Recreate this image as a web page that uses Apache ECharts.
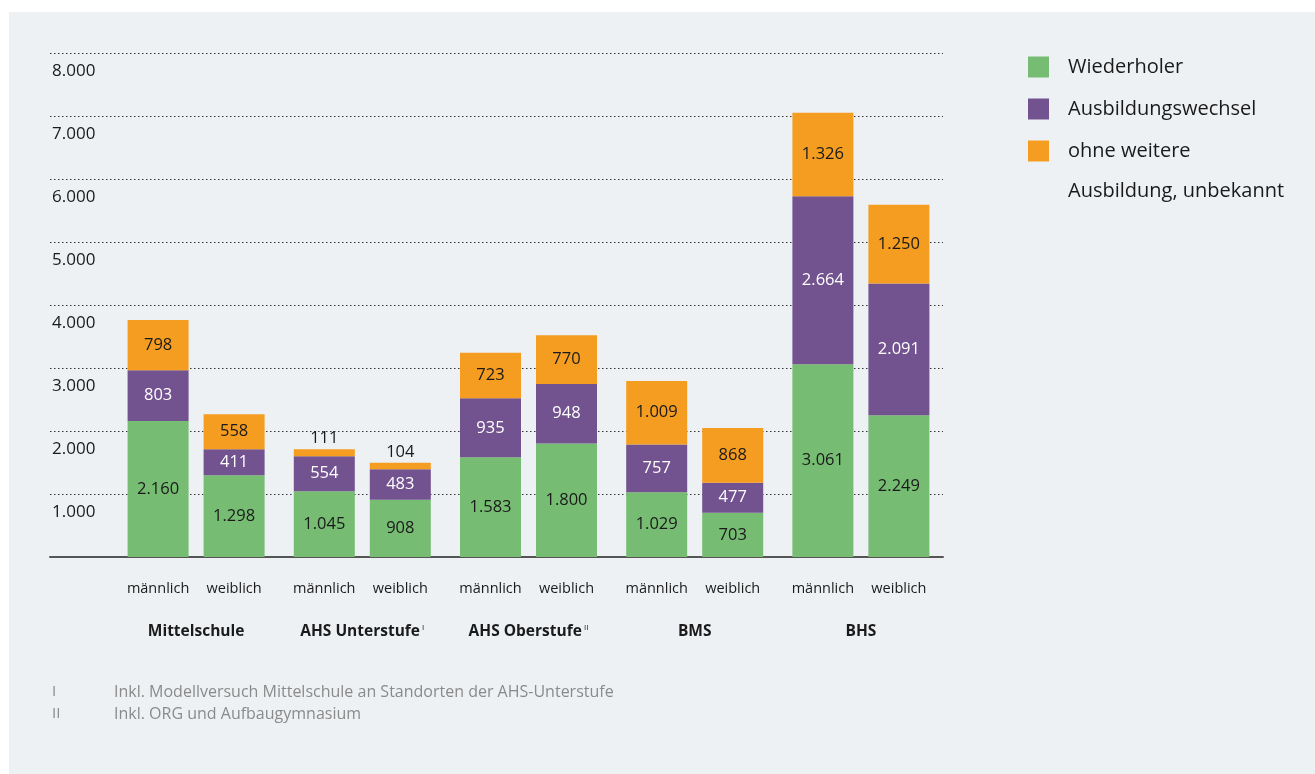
<!DOCTYPE html>
<html>
<head>
<meta charset="utf-8">
<script src="https://cdn.jsdelivr.net/npm/echarts@6/dist/echarts.min.js"></script>
<style>html,body{margin:0;padding:0;background:#fff}#c{width:1315px;height:774px}</style>
</head>
<body>
<div id="c"></div>
<script>
const groups = ['Mittelschule', 'AHS Unterstufe', 'AHS Oberstufe', 'BMS', 'BHS'];
const groupSup = ['', 'I', 'II', '', ''];
const genders = ['männlich', 'weiblich'];
const seriesNames = ['Wiederholer', 'Ausbildungswechsel', 'ohne weitere Ausbildung, unbekannt'];
// values per group: [männlich, weiblich]
const wiederholerM = [2160, 1045, 1583, 1029, 3061];
const wiederholerW = [1298, 908, 1800, 703, 2249];
const wechselM = [803, 554, 935, 757, 2664];
const wechselW = [411, 483, 948, 477, 2091];
const ohneM = [798, 111, 723, 1009, 1326];
const ohneW = [558, 104, 770, 868, 1250];
const yTicks = [0, 1000, 2000, 3000, 4000, 5000, 6000, 7000, 8000];
const footnotes = [['I', 'Inkl. Modellversuch Mittelschule an Standorten der AHS-Unterstufe'], ['II', 'Inkl. ORG und Aufbaugymnasium']];

const colors = ['#76BC72', '#72528F', '#F49D21'];
const labelColors = ['#1a1a1a', '#ffffff', '#1a1a1a'];
const FONT = '"Open Sans", "Noto Sans", sans-serif';

function fmt(v) { return String(v).replace(/\B(?=(\d{3})+(?!\d))/g, '.'); }

const chart = echarts.init(document.getElementById('c'), null, { renderer: 'canvas' });

const dataSets = [[wiederholerM, wiederholerW], [wechselM, wechselW], [ohneM, ohneW]];
const series = [];
[0, 1].forEach(g => {
  dataSets.forEach((pair, si) => {
    series.push({
      name: seriesNames[si],
      type: 'bar',
      stack: genders[g],
      xAxisIndex: 1, yAxisIndex: 1,
      barWidth: 61,
      barGap: '24.6%',
      itemStyle: { color: colors[si] },
      label: {
        show: true, position: 'inside', color: labelColors[si],
        fontFamily: FONT, fontSize: 16.5,
        formatter: p => fmt(p.value)
      },
      data: pair[g].map(v => v < 200 ? { value: v, label: { position: 'top', color: '#1a1a1a', distance: 2 } } : v)
    });
  });
});

const option = {
  backgroundColor: '#ffffff',
  animation: false,
  textStyle: { fontFamily: FONT },
  graphic: [
    { type: 'rect', z: -10, shape: { x: 9, y: 12, width: 1306, height: 762 }, style: { fill: '#EEF1F4' } },
    { type: 'text', left: 1068, top: 191 - 10, style: { text: 'Ausbildung, unbekannt', fill: '#1a1a1a', font: '20px ' + FONT } },
    ...footnotes.flatMap((f, i) => [
      { type: 'text', left: 52, top: 684 + i * 22, style: { text: f[0], fill: '#8a8a8a', font: '15px ' + FONT } },
      { type: 'text', left: 114, top: 684 + i * 22, style: { text: f[1], fill: '#8a8a8a', font: '16px ' + FONT } }
    ])
  ],
  legend: {
    orient: 'vertical', left: 1028, top: 56, padding: 0,
    itemWidth: 21, itemHeight: 21, itemGap: 20,
    icon: 'rect',
    textStyle: { fontSize: 20, color: '#1a1a1a', padding: [0, 0, 0, 14], lineHeight: 22, fontFamily: FONT },
    data: seriesNames,
    formatter: n => n === seriesNames[2] ? 'ohne weitere' : n
  },
  grid: [
    { left: 50, right: 372, top: 53, bottom: 217 },
    { left: 113, right: 371, top: 53, bottom: 217 }
  ],
  xAxis: [
    { type: 'value', gridIndex: 0, min: 0, max: 1, axisLine: { show: true, onZero: false, lineStyle: { color: '#555', width: 2 } }, axisTick: { show: false }, axisLabel: { show: false }, splitLine: { show: false } },
    {
      type: 'category', gridIndex: 1, data: groups,
      axisLine: { show: false }, axisTick: { show: false },
      axisLabel: {
        margin: 22, interval: 0,
        formatter: (v, i) => '{m|' + genders[0] + '}{w|' + genders[1] + '}\n{g|' + v + '}' + (groupSup[i] ? '{s| ' + groupSup[i] + '}' : ''),
        rich: {
          m: { width: 76, align: 'center', fontSize: 14.5, color: '#1a1a1a', lineHeight: 20, fontFamily: FONT },
          w: { width: 76, align: 'center', fontSize: 14.5, color: '#1a1a1a', lineHeight: 20, fontFamily: FONT },
          g: { fontSize: 15.5, fontWeight: 'bold', color: '#1a1a1a', lineHeight: 66, fontFamily: FONT },
          s: { fontSize: 8, color: '#1a1a1a', lineHeight: 66, verticalAlign: 'middle', padding: [0, 0, 9, 0], fontFamily: FONT }
        }
      }
    }
  ],
  yAxis: [
    {
      type: 'value', gridIndex: 0, min: yTicks[0], max: yTicks[yTicks.length - 1], interval: 1000,
      axisLine: { show: false }, axisTick: { show: false },
      axisLabel: {
        inside: true, align: 'left', verticalAlign: 'top', margin: 2, padding: [10, 0, 0, 0],
        fontSize: 17, color: '#1a1a1a', fontFamily: FONT,
        formatter: v => v === 0 ? '' : fmt(v)
      },
      splitLine: { show: true, lineStyle: { color: '#333', width: 1, type: [1.5, 2.5] } }
    },
    { type: 'value', gridIndex: 1, min: yTicks[0], max: yTicks[yTicks.length - 1], show: false, splitLine: { show: false } }
  ],
  series: series
};
chart.setOption(option);
</script>
</body>
</html>
